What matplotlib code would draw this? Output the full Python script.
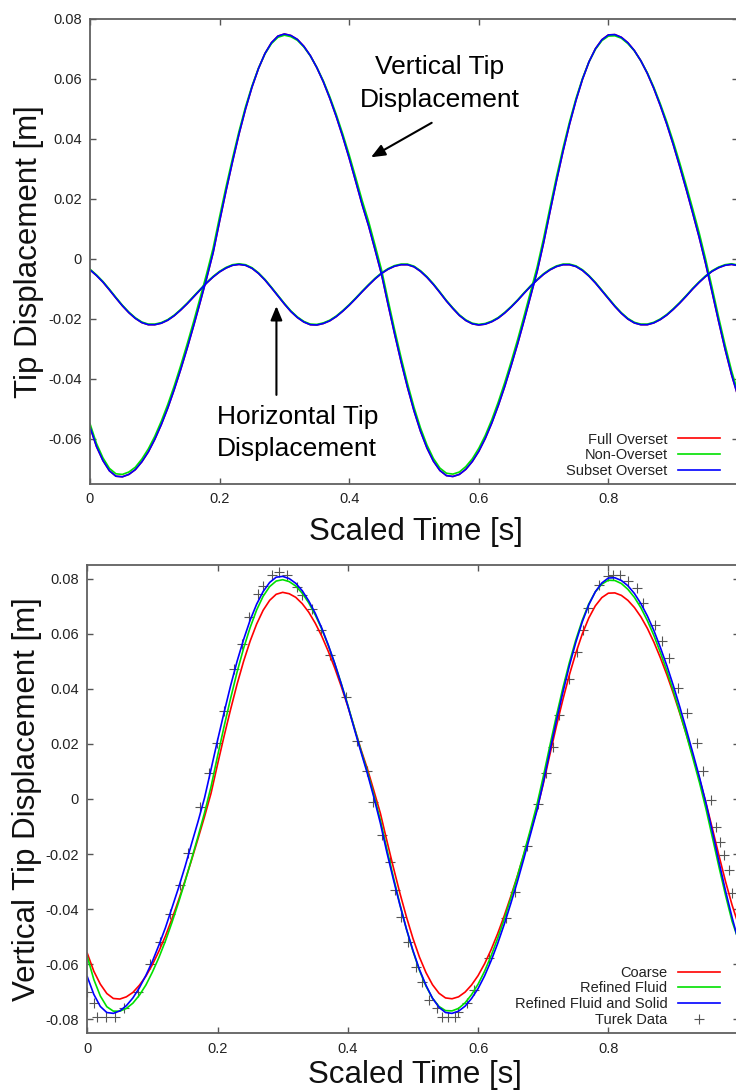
import numpy as np
import matplotlib
matplotlib.use("Agg")
import matplotlib.pyplot as plt

plt.rcParams['font.family'] = ['Liberation Sans', 'DejaVu Sans']

scaled_time = np.linspace(0.0, 1.0, 101)

# --- upper panel: vertical tip displacement ---
subset_vert = [
    -0.0560, -0.0625, -0.0672, -0.0706, -0.0724, -0.0726, -0.0718, -0.0702, -0.0676, -0.0643,
    -0.0601, -0.0552, -0.0497, -0.0435, -0.0368, -0.0297, -0.0222, -0.0144, -0.0064, 0.0021,
    0.0126, 0.0228, 0.0325, 0.0417, 0.0500, 0.0573, 0.0635, 0.0685, 0.0721, 0.0743,
    0.0750, 0.0745, 0.0732, 0.0709, 0.0678, 0.0638, 0.0591, 0.0536, 0.0475, 0.0408,
    0.0336, 0.0259, 0.0181, 0.0110, 0.0030, -0.0052, -0.0152, -0.0249, -0.0342, -0.0428,
    -0.0506, -0.0574, -0.0630, -0.0674, -0.0705, -0.0722, -0.0725, -0.0718, -0.0701, -0.0675,
    -0.0641, -0.0598, -0.0547, -0.0489, -0.0425, -0.0355, -0.0282, -0.0204, -0.0123, -0.0042,
    0.0054, 0.0159, 0.0262, 0.0359, 0.0449, 0.0529, 0.0599, 0.0657, 0.0701, 0.0731,
    0.0747, 0.0748, 0.0739, 0.0721, 0.0695, 0.0661, 0.0619, 0.0569, 0.0512, 0.0450,
    0.0382, 0.0309, 0.0233, 0.0154, 0.0073, -0.0015, -0.0110, -0.0207, -0.0300, -0.0385,
    -0.0458]
nonoverset_vert = [
    -0.0549, -0.0615, -0.0663, -0.0698, -0.0716, -0.0718, -0.0710, -0.0694, -0.0667, -0.0633,
    -0.0591, -0.0541, -0.0485, -0.0423, -0.0355, -0.0283, -0.0208, -0.0129, -0.0049, 0.0036,
    0.0141, 0.0241, 0.0336, 0.0426, 0.0507, 0.0577, 0.0636, 0.0684, 0.0718, 0.0739,
    0.0746, 0.0741, 0.0729, 0.0707, 0.0677, 0.0639, 0.0594, 0.0541, 0.0482, 0.0417,
    0.0347, 0.0272, 0.0195, 0.0125, 0.0045, -0.0037, -0.0137, -0.0235, -0.0328, -0.0415,
    -0.0494, -0.0563, -0.0620, -0.0665, -0.0697, -0.0714, -0.0717, -0.0710, -0.0692, -0.0666,
    -0.0631, -0.0588, -0.0536, -0.0477, -0.0412, -0.0342, -0.0268, -0.0189, -0.0108, -0.0027,
    0.0069, 0.0173, 0.0275, 0.0370, 0.0457, 0.0535, 0.0602, 0.0657, 0.0699, 0.0728,
    0.0743, 0.0744, 0.0736, 0.0718, 0.0694, 0.0661, 0.0621, 0.0573, 0.0518, 0.0458,
    0.0392, 0.0321, 0.0246, 0.0168, 0.0088, 0.0000, -0.0095, -0.0193, -0.0286, -0.0372,
    -0.0446]
full_vert = subset_vert  # red run sits exactly under the blue one

# --- upper panel: horizontal tip displacement ---
subset_horiz = [
    -0.0036, -0.0055, -0.0077, -0.0103, -0.0130, -0.0156, -0.0179, -0.0198, -0.0212, -0.0219,
    -0.0219, -0.0214, -0.0204, -0.0189, -0.0170, -0.0149, -0.0126, -0.0103, -0.0080, -0.0060,
    -0.0043, -0.0030, -0.0021, -0.0018, -0.0021, -0.0031, -0.0048, -0.0070, -0.0096, -0.0123,
    -0.0150, -0.0175, -0.0195, -0.0210, -0.0219, -0.0220, -0.0215, -0.0206, -0.0192, -0.0174,
    -0.0154, -0.0132, -0.0109, -0.0087, -0.0066, -0.0048, -0.0034, -0.0024, -0.0019, -0.0019,
    -0.0026, -0.0041, -0.0061, -0.0085, -0.0112, -0.0140, -0.0165, -0.0188, -0.0205, -0.0216,
    -0.0220, -0.0217, -0.0209, -0.0197, -0.0180, -0.0160, -0.0138, -0.0114, -0.0091, -0.0070,
    -0.0051, -0.0036, -0.0025, -0.0019, -0.0019, -0.0025, -0.0038, -0.0057, -0.0080, -0.0106,
    -0.0132, -0.0158, -0.0181, -0.0200, -0.0213, -0.0219, -0.0219, -0.0213, -0.0202, -0.0187,
    -0.0168, -0.0147, -0.0124, -0.0100, -0.0078, -0.0058, -0.0041, -0.0029, -0.0021, -0.0018,
    -0.0022]
nonoverset_horiz = [
    -0.0034, -0.0053, -0.0075, -0.0101, -0.0128, -0.0154, -0.0177, -0.0196, -0.0210, -0.0217,
    -0.0217, -0.0212, -0.0202, -0.0187, -0.0168, -0.0147, -0.0124, -0.0101, -0.0078, -0.0058,
    -0.0041, -0.0028, -0.0019, -0.0016, -0.0019, -0.0029, -0.0046, -0.0068, -0.0094, -0.0121,
    -0.0148, -0.0173, -0.0193, -0.0208, -0.0217, -0.0218, -0.0213, -0.0204, -0.0190, -0.0172,
    -0.0152, -0.0130, -0.0107, -0.0085, -0.0064, -0.0046, -0.0032, -0.0022, -0.0017, -0.0017,
    -0.0024, -0.0039, -0.0059, -0.0083, -0.0110, -0.0138, -0.0163, -0.0186, -0.0203, -0.0214,
    -0.0218, -0.0215, -0.0207, -0.0195, -0.0178, -0.0158, -0.0136, -0.0112, -0.0089, -0.0068,
    -0.0049, -0.0034, -0.0023, -0.0017, -0.0017, -0.0023, -0.0036, -0.0055, -0.0078, -0.0104,
    -0.0130, -0.0156, -0.0179, -0.0198, -0.0211, -0.0217, -0.0217, -0.0211, -0.0200, -0.0185,
    -0.0166, -0.0145, -0.0122, -0.0098, -0.0076, -0.0056, -0.0039, -0.0027, -0.0019, -0.0016,
    -0.0020]
full_horiz = subset_horiz

# --- lower panel: vertical tip displacement, mesh study ---
coarse = subset_vert
refined_fluid = [
    -0.0572, -0.0655, -0.0715, -0.0754, -0.0770, -0.0770, -0.0760, -0.0741, -0.0712, -0.0675,
    -0.0628, -0.0575, -0.0515, -0.0448, -0.0376, -0.0300, -0.0219, -0.0136, -0.0050, 0.0045,
    0.0156, 0.0263, 0.0365, 0.0461, 0.0547, 0.0622, 0.0686, 0.0736, 0.0771, 0.0791,
    0.0796, 0.0789, 0.0773, 0.0747, 0.0712, 0.0668, 0.0617, 0.0557, 0.0491, 0.0418,
    0.0341, 0.0259, 0.0177, 0.0100, 0.0014, -0.0077, -0.0182, -0.0284, -0.0382, -0.0472,
    -0.0552, -0.0622, -0.0679, -0.0723, -0.0753, -0.0768, -0.0769, -0.0760, -0.0740, -0.0710,
    -0.0672, -0.0625, -0.0569, -0.0506, -0.0437, -0.0362, -0.0283, -0.0200, -0.0114, -0.0024,
    0.0080, 0.0191, 0.0299, 0.0401, 0.0494, 0.0577, 0.0649, 0.0708, 0.0752, 0.0780,
    0.0794, 0.0793, 0.0782, 0.0761, 0.0732, 0.0694, 0.0647, 0.0593, 0.0531, 0.0464,
    0.0391, 0.0312, 0.0231, 0.0146, 0.0059, -0.0037, -0.0142, -0.0248, -0.0350, -0.0444,
    -0.0513]
refined_fluid_solid = [
    -0.0645, -0.0709, -0.0753, -0.0775, -0.0778, -0.0769, -0.0750, -0.0722, -0.0685, -0.0640,
    -0.0589, -0.0530, -0.0467, -0.0395, -0.0323, -0.0246, -0.0163, -0.0082, 0.0004, 0.0108,
    0.0213, 0.0314, 0.0411, 0.0500, 0.0579, 0.0649, 0.0707, 0.0753, 0.0786, 0.0805,
    0.0808, 0.0800, 0.0783, 0.0756, 0.0719, 0.0674, 0.0620, 0.0559, 0.0491, 0.0417,
    0.0338, 0.0254, 0.0172, 0.0093, 0.0006, -0.0088, -0.0194, -0.0292, -0.0385, -0.0472,
    -0.0550, -0.0619, -0.0676, -0.0723, -0.0756, -0.0775, -0.0778, -0.0770, -0.0752, -0.0724,
    -0.0688, -0.0642, -0.0587, -0.0525, -0.0456, -0.0381, -0.0303, -0.0219, -0.0132, -0.0045,
    0.0058, 0.0171, 0.0281, 0.0385, 0.0482, 0.0568, 0.0643, 0.0705, 0.0752, 0.0784,
    0.0802, 0.0803, 0.0793, 0.0774, 0.0746, 0.0709, 0.0664, 0.0611, 0.0549, 0.0483,
    0.0410, 0.0332, 0.0250, 0.0165, 0.0078, -0.0016, -0.0121, -0.0230, -0.0334, -0.0430,
    -0.0518]

turek_t = [
    0.000, 0.0103, 0.0144, 0.028, 0.0426, 0.0564, 0.0783, 0.0963, 0.1117, 0.127,
    0.1423, 0.155, 0.173, 0.1873, 0.1987, 0.2099, 0.2257, 0.2371, 0.2483, 0.2616,
    0.2702, 0.2831, 0.2943, 0.3071, 0.3215, 0.3292, 0.3445, 0.3584, 0.3726, 0.3967,
    0.4146, 0.4290, 0.4391, 0.4520, 0.4648, 0.4724, 0.4817, 0.4929, 0.5047, 0.5134,
    0.5246, 0.5365, 0.5441, 0.5543, 0.5646, 0.5696, 0.5825, 0.5940, 0.6170, 0.6429,
    0.6567, 0.6756, 0.6925, 0.7043, 0.7146, 0.7247, 0.7401, 0.7514, 0.7606, 0.7692,
    0.7861, 0.8000, 0.8076, 0.8179, 0.8307, 0.8435, 0.8537, 0.8716, 0.8819, 0.8936,
    0.9074, 0.9203, 0.9357, 0.9449, 0.9572, 0.9653, 0.9715, 0.9776, 0.9857, 0.9894]
turek_y = [
    -0.0700, -0.0739, -0.0790, -0.0792, -0.0790, -0.0760, -0.0700, -0.0600, -0.0518, -0.0417,
    -0.0312, -0.0197, -0.0028, 0.0093, 0.0202, 0.0320, 0.0472, 0.0561, 0.0662, 0.0743,
    0.0773, 0.0813, 0.0823, 0.0813, 0.0771, 0.0740, 0.0689, 0.0613, 0.0523, 0.0371,
    0.0211, 0.0102, -0.0010, -0.0131, -0.0228, -0.0330, -0.0429, -0.0518, -0.0611, -0.0663,
    -0.0730, -0.0760, -0.0790, -0.0790, -0.0790, -0.0772, -0.0742, -0.0693, -0.0578, -0.0433,
    -0.0339, -0.0171, -0.0019, 0.0093, 0.0190, 0.0305, 0.0436, 0.0535, 0.0613, 0.0692,
    0.0777, 0.0809, 0.0813, 0.0813, 0.0792, 0.0765, 0.0713, 0.0632, 0.0573, 0.0511,
    0.0404, 0.0311, 0.0202, 0.0102, -0.0004, -0.0101, -0.0155, -0.0203, -0.0258, -0.0342]

x_ticks = [0, 0.2, 0.4, 0.6, 0.8]
x_labels = ['0', '0.2', '0.4', '0.6', '0.8']
top_y_ticks = [-0.06, -0.04, -0.02, 0, 0.02, 0.04, 0.06, 0.08]
top_y_labels = ['-0.06', '-0.04', '-0.02', '0', '0.02', '0.04', '0.06', '0.08']
bot_y_ticks = [-0.08, -0.06, -0.04, -0.02, 0, 0.02, 0.04, 0.06, 0.08]
bot_y_labels = ['-0.08', '-0.06', '-0.04', '-0.02', '0', '0.02', '0.04', '0.06', '0.08']

RED, GREEN, BLUE = '#ff0000', '#00e000', '#0000ff'
LW = 1.2
W, H = 736, 1090


def style_axes(ax, yticks, ylabels):
    for s in ax.spines.values():
        s.set_color('#606060')
        s.set_linewidth(1.3)
    ax.set_xlim(0, 1)
    ax.set_xticks(x_ticks)
    ax.set_xticklabels(x_labels)
    ax.set_yticks(yticks)
    ax.set_yticklabels(ylabels)
    ax.tick_params(direction='in', length=4.5, width=1.0, color='#555555',
                   top=True, right=True, labelsize=10.5, labelcolor='#222222', pad=6)


def add_legend(ax, handles, bottom_px):
    leg = ax.legend(handles=handles, loc='lower right',
                    bbox_to_anchor=(720 / W, 1 - bottom_px / H), bbox_transform=fig.transFigure,
                    frameon=False, markerfirst=False, fontsize=10.5, handlelength=2.9,
                    handletextpad=0.7, labelspacing=0.12, borderpad=0, borderaxespad=0)
    for txt in leg.get_texts():
        txt.set_color('#222222')
    return leg


fig = plt.figure(figsize=(W / 100, H / 100), dpi=100)

# upper panel
ax1 = fig.add_axes([90 / W, 1 - 484 / H, 648 / W, 465 / H])
l_full, = ax1.plot(scaled_time, full_vert, color=RED, lw=LW, label='Full Overset')
ax1.plot(scaled_time, full_horiz, color=RED, lw=LW)
l_non, = ax1.plot(scaled_time, nonoverset_vert, color=GREEN, lw=LW, label='Non-Overset')
ax1.plot(scaled_time, nonoverset_horiz, color=GREEN, lw=LW)
l_sub, = ax1.plot(scaled_time, subset_vert, color=BLUE, lw=LW, label='Subset Overset')
ax1.plot(scaled_time, subset_horiz, color=BLUE, lw=LW)
ax1.set_ylim(-0.075, 0.08)
style_axes(ax1, top_y_ticks, top_y_labels)
ax1.set_ylabel('Tip Displacement [m]', fontsize=22.5, color='#111111')
ax1.yaxis.set_label_coords(-0.071, 0.5)
ax1.set_xlabel('Scaled Time [s]', fontsize=22.5, color='#111111')
ax1.xaxis.set_label_coords(0.503, -0.071)

ax1.text(0.540, 0.0616, 'Vertical Tip', ha='center', va='baseline', fontsize=19)
ax1.text(0.540, 0.0506, 'Displacement', ha='center', va='baseline', fontsize=19)
ax1.text(0.320, -0.0551, 'Horizontal Tip', ha='center', va='baseline', fontsize=19)
ax1.text(0.320, -0.0657, 'Displacement', ha='center', va='baseline', fontsize=19)
arrow = dict(arrowstyle='-|>,head_length=0.6,head_width=0.25', color='black', lw=1.5,
             mutation_scale=14, shrinkA=0, shrinkB=0)
ax1.annotate('', xy=(0.4336, 0.0339), xytext=(0.5273, 0.0454), arrowprops=arrow)
ax1.annotate('', xy=(0.2877, -0.0157), xytext=(0.2877, -0.0453), arrowprops=arrow)

add_legend(ax1, [l_full, l_non, l_sub], 478)

# lower panel
ax2 = fig.add_axes([87.3 / W, 1 - 1033.2 / H, 651.3 / W, 468.4 / H])
l_t, = ax2.plot(turek_t, turek_y, linestyle='none', marker='+', markersize=7, mew=0.8,
                color='#555555', label='Turek Data', zorder=1)
l_c, = ax2.plot(scaled_time, coarse, color=RED, lw=LW, label='Coarse', zorder=2)
l_rf, = ax2.plot(scaled_time, refined_fluid, color=GREEN, lw=LW, label='Refined Fluid', zorder=2)
l_rfs, = ax2.plot(scaled_time, refined_fluid_solid, color=BLUE, lw=LW,
                  label='Refined Fluid and Solid', zorder=2)
ax2.set_ylim(-0.085, 0.085)
style_axes(ax2, bot_y_ticks, bot_y_labels)
ax2.set_ylabel('Vertical Tip Displacement [m]', fontsize=22.5, color='#111111')
ax2.yaxis.set_label_coords(-0.0696, 0.5)
ax2.set_xlabel('Scaled Time [s]', fontsize=22.5, color='#111111')
ax2.xaxis.set_label_coords(0.503, -0.058)

add_legend(ax2, [l_c, l_rf, l_rfs, l_t], 1027)

fig.savefig('out.png', dpi=100)
